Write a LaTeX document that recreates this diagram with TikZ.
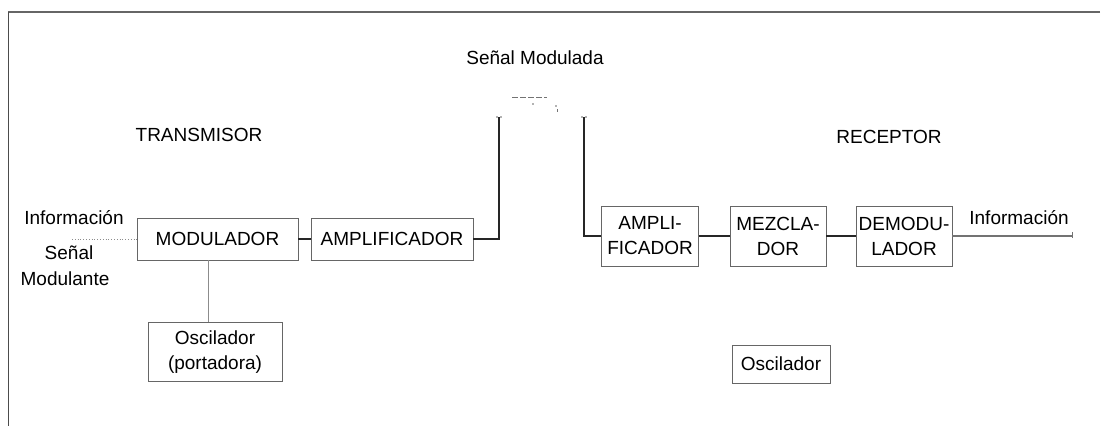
\documentclass[tikz,border=0pt]{standalone}
\usepackage{fontspec}
\setmainfont{Liberation Sans}
\begin{document}
\begin{tikzpicture}[x=1pt,y=-1pt,
  every node/.style={font=\fontsize{19}{25}\selectfont, inner sep=0pt},
  blk/.style={draw=black!60, line width=0.9pt, align=center},
  lbl/.style={align=center},
  conn/.style={line width=1.3pt, black!85},
  faint/.style={line width=0.8pt, black!45},
  antmark/.style={line width=0.8pt, black!55}]
\useasboundingbox (0,0) rectangle (1105,426);
% frame
\draw[line width=1.6pt, black!60] (1100,12) -- (8,12);
\draw[line width=1pt, black!70] (8,12) -- (8,426);
% titles
\node[lbl] (tx) at (199,135) {TRANSMISOR};
\node[lbl] (rx) at (889,137) {RECEPTOR};
\node[lbl] (sm) at (535,58) {Señal Modulada};
% transmitter blocks
\node[blk, minimum width=161, minimum height=42] (mod) at (217.5,239) {MODULADOR};
\node[blk, minimum width=162, minimum height=42] (amp) at (392,239) {AMPLIFICADOR};
\node[blk, minimum width=134, minimum height=59] (osct) at (215,352) {Oscilador\\(portadora)};
% receiver blocks
\node[blk, minimum width=97, minimum height=60] (ampr) at (650,236) {AMPLI-\\FICADOR};
\node[blk, minimum width=96, minimum height=60] (mez) at (778,236) {MEZCLA-\\DOR};
\node[blk, minimum width=96, minimum height=60] (dem) at (904,236) {DEMODU-\\LADOR};
\node[blk, minimum width=98, minimum height=38] (oscr) at (781,364) {Oscilador};
% left labels
\node[lbl] (info1) at (74,218) {Información};
\node[lbl] (senal) at (69,253) {Señal};
\node[lbl] (modl) at (65,279) {Modulante};
\node[lbl] (info2) at (1019,218) {Información};
% connectors
\coordinate (inp) at (72,239);
\draw[faint, dotted, line width=1pt] (inp) -- (mod.west);
\draw[conn] (mod.east) -- (amp.west);
\draw[faint] ([xshift=-9.5pt]mod.south) -- ([xshift=-9.5pt]mod.south |- osct.north);
\coordinate (ant1) at (499,117);
\coordinate (ant2) at (584,117);
\draw[conn] (amp.east) -| (ant1);
\draw[conn] (ant2) |- (ampr.west);
\draw[conn] (ampr.east) -- (mez.west);
\draw[conn] (mez.east) -- (dem.west);
\coordinate (out) at (1072,236);
\draw[line width=1.2pt, black!55] (dem.east) -- (out);
\draw[antmark] (out) ++(0,-4) -- ++(0,6);
% antenna marks
\draw[antmark, dash pattern=on 6pt off 2pt] (512,97) -- (547,97);
\fill[black!60] (533,104) circle (0.9);
\fill[black!60] (556,106) circle (0.9);
\draw[antmark] (557,109) -- (557,112);
\fill[black!60] (497,117) circle (0.8);
\fill[black!60] (501,117) circle (0.8);
\fill[black!60] (582,117) circle (0.8);
\fill[black!60] (586,117) circle (0.8);
\end{tikzpicture}
\end{document}
